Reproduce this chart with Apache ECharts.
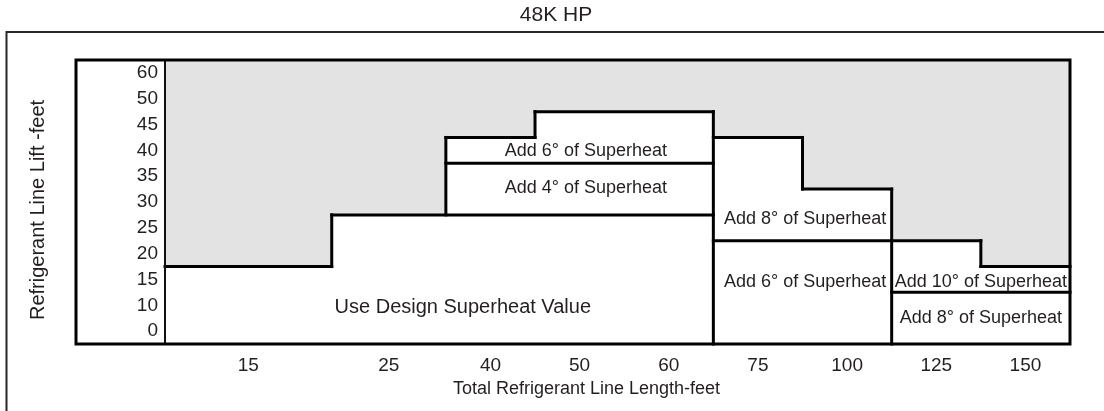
<!DOCTYPE html>
<html>
<head>
<meta charset="utf-8">
<script src="https://cdn.jsdelivr.net/npm/echarts@6/dist/echarts.min.js"></script>
<style>html,body{margin:0;padding:0;background:#fff;}#c{width:1104px;height:411px;}</style>
</head>
<body>
<div id="c"></div>
<script>
// ---- data ----
const xLabels = ['15', '25', '40', '50', '60', '75', '100', '125', '150'];
const xEdges = [0, 1.87, 3.15, 4.15, 5.15, 6.15, 7.15, 8.15, 9.15, 10.15];
const yLabels = ['0', '10', '15', '20', '25', '30', '35', '40', '45', '50', '60'];

// zones: [line length column, lowest lift, highest lift]
const zoneUseDesign = [['15', '0', '15'], ['25', '0', '25'], ['40', '0', '25'], ['50', '0', '25'], ['60', '0', '25']];
const zoneAdd4 = [['40', '30', '35'], ['50', '30', '35'], ['60', '30', '35']];
const zoneAdd6Upper = [['40', '40', '40'], ['50', '40', '45'], ['60', '40', '45']];
const zoneAdd8Upper = [['75', '25', '40'], ['100', '25', '30']];
const zoneAdd6Lower = [['75', '0', '20'], ['100', '0', '20']];
const zoneAdd10 = [['125', '15', '20'], ['150', '15', '15']];
const zoneAdd8Lower = [['125', '0', '10'], ['150', '0', '10']];

const zoneTexts = ['Use Design Superheat Value', 'Add 4° of Superheat', 'Add 6° of Superheat',
  'Add 8° of Superheat', 'Add 6° of Superheat', 'Add 10° of Superheat', 'Add 8° of Superheat'];
const zoneTextX = [3.34, 4.72, 4.72, 7.18, 7.18, 9.15, 9.15];
const zoneTextY = [0.93, 5.55, 6.97, 4.34, 1.91, 1.91, 0.51];

const titleText = '48K HP';
const xName = 'Total Refrigerant Line Length-feet';
const yName = 'Refrigerant Line Lift -feet';

// ---- build ----
const FONT = '"Liberation Sans", Arial, Helvetica, sans-serif';
const TXT = '#231f20';
const zones = [zoneUseDesign, zoneAdd4, zoneAdd6Upper, zoneAdd8Upper, zoneAdd6Lower, zoneAdd10, zoneAdd8Lower];
const nC = xLabels.length, nR = yLabels.length;
const grid = [];
for (let c = 0; c < nC; c++) { grid.push(new Array(nR).fill(-1)); }
const fillData = [];
zones.forEach((z, zi) => {
  z.forEach(([col, lo, hi]) => {
    const c = xLabels.indexOf(col), r0 = yLabels.indexOf(lo), r1 = yLabels.indexOf(hi);
    for (let r = r0; r <= r1; r++) grid[c][r] = zi;
    fillData.push([xEdges[c], xEdges[c + 1], r0 - 0.5, r1 + 0.5]);
  });
});
// boundary segments between differing cells, merged into continuous lines
const vSeg = {}, hSeg = {};
for (let c = 1; c < nC; c++) {
  for (let r = 0; r < nR; r++) {
    if (grid[c - 1][r] !== grid[c][r]) (vSeg[c] = vSeg[c] || []).push([r - 0.5, r + 0.5]);
  }
}
for (let r = 1; r < nR; r++) {
  for (let c = 0; c < nC; c++) {
    if (grid[c][r - 1] !== grid[c][r]) (hSeg[r] = hSeg[r] || []).push([xEdges[c], xEdges[c + 1]]);
  }
}
function merge(list) {
  const out = [];
  list.forEach(s => {
    const last = out[out.length - 1];
    if (last && Math.abs(last[1] - s[0]) < 1e-9) last[1] = s[1]; else out.push([s[0], s[1]]);
  });
  return out;
}
const edgeData = [];
Object.keys(vSeg).forEach(c => merge(vSeg[c]).forEach(s => edgeData.push([xEdges[c], s[0], xEdges[c], s[1]])));
Object.keys(hSeg).forEach(r => merge(hSeg[r]).forEach(s => edgeData.push([s[0], r - 0.5, s[1], r - 0.5])));

const textData = zoneTexts.map((t, i) => [zoneTextX[i], zoneTextY[i], i]);
const xMid = xLabels.map((l, i) => (xEdges[i] + xEdges[i + 1]) / 2);
const yIdx = yLabels.map((l, i) => i);

const chart = echarts.init(document.getElementById('c'), null, { renderer: 'canvas' });
chart.setOption({
  animation: false,
  backgroundColor: '#fff',
  title: {
    text: titleText, left: 556, top: 5, textAlign: 'center', padding: 0,
    textStyle: { fontFamily: FONT, fontSize: 21, fontWeight: 'normal', color: TXT }
  },
  grid: { left: 165, right: 34, top: 60, bottom: 67, show: true, backgroundColor: '#e3e3e3', borderWidth: 0 },
  xAxis: {
    type: 'value', min: 0, max: xEdges[xEdges.length - 1],
    axisLine: { show: false }, axisTick: { show: false }, splitLine: { show: false },
    axisLabel: {
      customValues: xMid, margin: 12, fontFamily: FONT, fontSize: 19, color: TXT,
      formatter: (v) => { let b = 0; xMid.forEach((m, i) => { if (Math.abs(m - v) < Math.abs(xMid[b] - v)) b = i; }); return xLabels[b]; }
    }
  },
  yAxis: {
    type: 'value', min: -0.5, max: nR - 0.5, z: 20,
    axisLine: { show: true, lineStyle: { color: '#111', width: 2 } },
    axisTick: { show: false }, splitLine: { show: false },
    axisLabel: {
      customValues: yIdx, margin: 7, fontFamily: FONT, fontSize: 19, color: TXT,
      formatter: (v) => yLabels[Math.round(v)]
    }
  },
  graphic: [
    { type: 'rect', z: 100, silent: true, shape: { x: 6.5, y: 32, width: 1300, height: 600 }, style: { fill: 'none', stroke: '#2b2725', lineWidth: 2 } },
    { type: 'rect', z: 100, silent: true, shape: { x: 76, y: 60, width: 994, height: 284 }, style: { fill: 'none', stroke: '#000', lineWidth: 3 } },
    { type: 'text', z: 100, silent: true, x: 586.5, y: 389, style: { text: xName, font: '18px ' + FONT, fill: TXT, align: 'center', verticalAlign: 'middle', textAlign: 'center', textVerticalAlign: 'middle' } },
    { type: 'text', z: 100, silent: true, x: 38, y: 210, rotation: Math.PI / 2, style: { text: yName, font: '20px ' + FONT, fill: TXT, align: 'center', verticalAlign: 'middle', textAlign: 'center', textVerticalAlign: 'middle' } }
  ],
  series: [
    {
      type: 'custom', silent: true, z: 2, data: fillData,
      renderItem: (params, api) => {
        const p0 = api.coord([api.value(0), api.value(3)]);
        const p1 = api.coord([api.value(1), api.value(2)]);
        return { type: 'rect', shape: { x: p0[0], y: p0[1], width: p1[0] - p0[0], height: p1[1] - p0[1] }, style: { fill: '#fff', stroke: '#fff', lineWidth: 1 } };
      }
    },
    {
      type: 'custom', silent: true, z: 3, data: edgeData,
      renderItem: (params, api) => {
        const a = api.coord([api.value(0), api.value(1)]);
        const b = api.coord([api.value(2), api.value(3)]);
        return { type: 'line', shape: { x1: a[0], y1: a[1], x2: b[0], y2: b[1] }, style: { stroke: '#000', lineWidth: 3, lineCap: 'square' } };
      }
    },
    {
      type: 'custom', silent: true, z: 4, data: textData,
      renderItem: (params, api) => {
        const p = api.coord([api.value(0), api.value(1)]);
        const i = api.value(2);
        return { type: 'text', x: p[0], y: p[1], style: { text: zoneTexts[i], font: (i === 0 ? 20 : 18) + 'px ' + FONT, fill: TXT, align: 'center', verticalAlign: 'middle' } };
      }
    }
  ]
});
</script>
</body>
</html>
